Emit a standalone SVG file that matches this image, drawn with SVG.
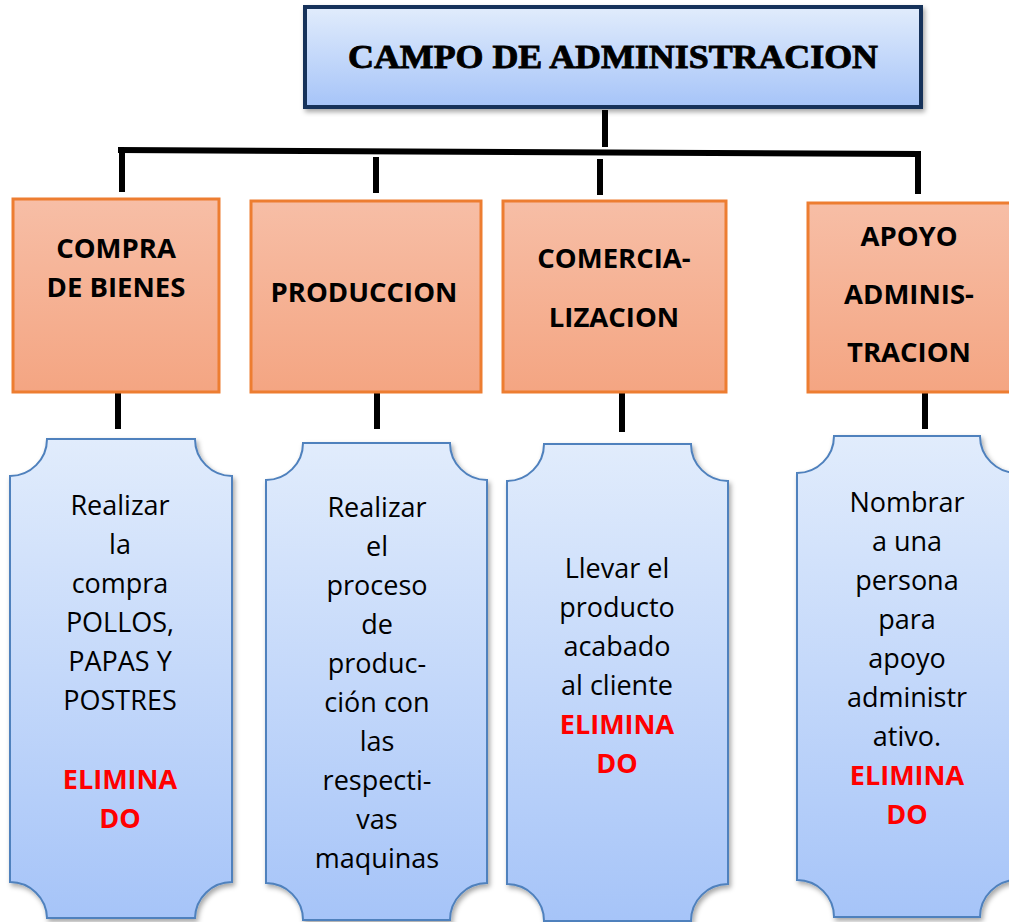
<svg xmlns="http://www.w3.org/2000/svg" width="1009" height="922" viewBox="0 0 1009 922">
<defs>
<linearGradient id="gBlue" x1="0" y1="0" x2="0" y2="1">
<stop offset="0" stop-color="#e1ecfc"/>
<stop offset="1" stop-color="#a6c4f8"/>
</linearGradient>
<linearGradient id="gOrange" x1="0" y1="0" x2="0" y2="1">
<stop offset="0" stop-color="#f7bea6"/>
<stop offset="1" stop-color="#f4a582"/>
</linearGradient>
<filter id="sh" x="-10%" y="-10%" width="120%" height="120%">
<feDropShadow dx="2" dy="3" stdDeviation="2.5" flood-color="#000" flood-opacity="0.35"/>
</filter>
</defs>
<style>
.title{font-family:"Liberation Serif","DejaVu Serif",serif;font-weight:bold;font-size:33px;fill:#000;stroke:#000;stroke-width:0.9}
.obox{fill:url(#gOrange);stroke:#ed7d31;stroke-width:3}
.olbl{font-family:"Open Sans","Liberation Sans",sans-serif;font-weight:bold;font-size:27.5px;fill:#000;text-anchor:middle}
.plq{fill:url(#gBlue);stroke:#4f81bd;stroke-width:2;filter:url(#sh)}
.ptxt{font-family:"Open Sans","Liberation Sans",sans-serif;font-size:27px;fill:#000;text-anchor:middle}
.red{font-weight:bold;fill:#ff0000}
.con{stroke:#000;stroke-width:6;fill:none}
</style>
<rect width="1009" height="922" fill="#fff"/>

<g id="connectors">
<line class="con" x1="605" y1="110" x2="605" y2="147"/>
<polyline class="con" points="118,150 918,154 918,194"/>
<line class="con" x1="122" y1="153" x2="122" y2="192"/>
<line class="con" x1="376" y1="157" x2="376" y2="193"/>
<line class="con" x1="600" y1="159" x2="600" y2="195"/>
<line class="con" x1="118" y1="391" x2="118" y2="429"/>
<line class="con" x1="377" y1="391" x2="377" y2="429"/>
<line class="con" x1="622" y1="392" x2="622" y2="432"/>
<line class="con" x1="925" y1="391" x2="925" y2="429"/>
</g>

<g id="root">
<rect x="305" y="7" width="616" height="100" fill="url(#gBlue)" stroke="#17305a" stroke-width="4" filter="url(#sh)"/>
<text class="title" x="613" y="68" text-anchor="middle" textLength="530" lengthAdjust="spacingAndGlyphs">CAMPO DE ADMINISTRACION</text>
</g>

<g id="compra">
<rect class="obox" x="13" y="199" width="206" height="193"/>
<text class="olbl" x="116" y="258">COMPRA</text>
<text class="olbl" x="116" y="297">DE BIENES</text>
</g>
<g id="produccion">
<rect class="obox" x="251" y="201" width="230" height="191"/>
<text class="olbl" x="364" y="302">PRODUCCION</text>
</g>
<g id="comercializacion">
<rect class="obox" x="503" y="201" width="223" height="191"/>
<text class="olbl" x="614" y="268">COMERCIA-</text>
<text class="olbl" x="614" y="327">LIZACION</text>
</g>
<g id="apoyo">
<rect class="obox" x="808" y="203" width="210" height="189"/>
<text class="olbl" x="909" y="246">APOYO</text>
<text class="olbl" x="909" y="304">ADMINIS-</text>
<text class="olbl" x="909" y="362">TRACION</text>
</g>

<g id="detalle-compra">
<path class="plq" d="M47,439 H195 A37,37 0 0 0 232,476 V882 A37,37 0 0 0 195,918 H47 A37,37 0 0 0 10,882 V476 A37,37 0 0 0 47,439 Z"/>
<text class="ptxt" x="120" y="515">Realizar</text>
<text class="ptxt" x="120" y="554">la</text>
<text class="ptxt" x="120" y="593">compra</text>
<text class="ptxt" x="120" y="632">POLLOS,</text>
<text class="ptxt" x="120" y="671">PAPAS Y</text>
<text class="ptxt" x="120" y="710">POSTRES</text>
<text class="ptxt red" x="120" y="789">ELIMINA</text>
<text class="ptxt red" x="120" y="828">DO</text>
</g>

<g id="detalle-produccion">
<path class="plq" d="M303,443 H450 A37,37 0 0 0 487,480 V883 A37,37 0 0 0 450,920 H303 A37,37 0 0 0 266,883 V480 A37,37 0 0 0 303,443 Z"/>
<text class="ptxt" x="377" y="517">Realizar</text>
<text class="ptxt" x="377" y="556">el</text>
<text class="ptxt" x="377" y="595">proceso</text>
<text class="ptxt" x="377" y="634">de</text>
<text class="ptxt" x="377" y="673">produc-</text>
<text class="ptxt" x="377" y="712">ción con</text>
<text class="ptxt" x="377" y="751">las</text>
<text class="ptxt" x="377" y="790">respecti-</text>
<text class="ptxt" x="377" y="829">vas</text>
<text class="ptxt" x="377" y="868">maquinas</text>
</g>

<g id="detalle-comercializacion">
<path class="plq" d="M544,444 H691 A37,37 0 0 0 728,481 V884 A37,37 0 0 0 691,921 H544 A37,37 0 0 0 507,884 V481 A37,37 0 0 0 544,444 Z"/>
<text class="ptxt" x="617" y="578">Llevar el</text>
<text class="ptxt" x="617" y="617">producto</text>
<text class="ptxt" x="617" y="656">acabado</text>
<text class="ptxt" x="617" y="695">al cliente</text>
<text class="ptxt red" x="617" y="734">ELIMINA</text>
<text class="ptxt red" x="617" y="773">DO</text>
</g>

<g id="detalle-apoyo">
<path class="plq" d="M834,436 H980 A37,37 0 0 0 1017,473 V880 A37,37 0 0 0 980,917 H834 A37,37 0 0 0 797,880 V473 A37,37 0 0 0 834,436 Z"/>
<text class="ptxt" x="907" y="512">Nombrar</text>
<text class="ptxt" x="907" y="551">a una</text>
<text class="ptxt" x="907" y="590">persona</text>
<text class="ptxt" x="907" y="629">para</text>
<text class="ptxt" x="907" y="668">apoyo</text>
<text class="ptxt" x="907" y="707">administr</text>
<text class="ptxt" x="907" y="746">ativo.</text>
<text class="ptxt red" x="907" y="785">ELIMINA</text>
<text class="ptxt red" x="907" y="824">DO</text>
</g>
</svg>
